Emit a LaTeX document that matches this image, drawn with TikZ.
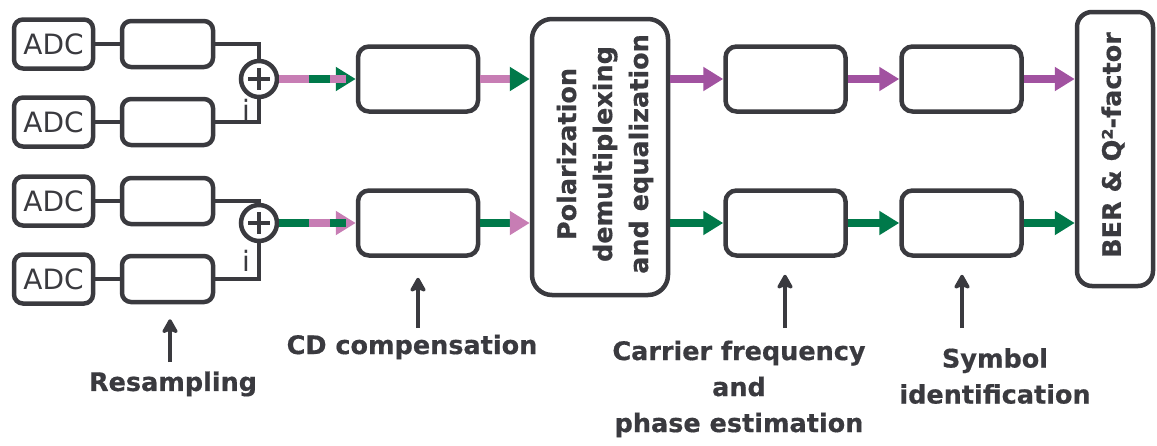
\documentclass[tikz,border=0pt]{standalone}
\usepackage{fontspec}
\setmainfont{DejaVu Sans}[BoldFeatures={FakeBold=0.6}]
\usetikzlibrary{arrows.meta,calc}
\definecolor{ink}{HTML}{3A3A3F}
\definecolor{pinkc}{HTML}{C77DB4}
\definecolor{greenc}{HTML}{00794A}
\definecolor{purplec}{HTML}{A152A0}
\begin{document}
\begin{tikzpicture}[x=1pt,y=-1pt,
  box/.style={draw=ink,line width=4.5pt,inner sep=0pt,text=ink},
  adc/.style={box,rounded corners=9pt,minimum width=79pt,minimum height=49pt,font=\fontsize{28}{28}\selectfont},
  rs/.style={box,rounded corners=9pt,minimum width=91pt,minimum height=46pt},
  proc/.style={box,rounded corners=11pt,minimum width=120pt,minimum height=65pt},
  adder/.style={box,circle,minimum size=36pt},
  wire/.style={draw=ink,line width=4.5pt},
  head/.style={-{Triangle[length=20pt,width=23pt,color=#1]}},
  sig/.style={line width=7.5pt},
  lbl/.style={inner sep=0pt,text=ink,align=center,font=\fontsize{25.5}{36}\selectfont\bfseries},
  vlbl/.style={lbl,rotate=90},
  idx/.style={inner sep=0pt,text=ink,font=\fontsize{28}{28}\selectfont},
  up/.style={draw=ink,line width=4.5pt,-{Stealth[length=17pt,width=19pt,inset=4pt,round]}}
]
\useasboundingbox (0,0) rectangle (1157,445);

% converters and resamplers
\foreach \k/\y in {1/44,2/122,3/201,4/279}{
  \node[adc] (adc\k) at (53.5,\y) {ADC};
  \node[rs] (res\k) at (167.5,\y) {};
  \draw[wire] (adc\k) -- (res\k);
}

% adders combining real and imaginary parts
\node[adder] (add1) at (259,79) {};
\node[adder] (add2) at (259,223) {};
\foreach \a in {add1,add2}{
  \draw[wire] ($(\a)+(-11,0)$) -- ($(\a)+(11,0)$);
  \draw[wire] ($(\a)+(0,-11)$) -- ($(\a)+(0,11)$);
}
\draw[wire] (res1.east) -| (add1.north);
\draw[wire] (res2.east) -| (add1.south);
\draw[wire] (res3.east) -| (add2.north);
\draw[wire] (res4.east) -| (add2.south);
\node[idx] (i1) at (246,110) {i};
\node[idx] (i2) at (246,261) {i};

% processing blocks
\node[proc] (cd1) at (418,79) {};
\node[proc] (cd2) at (418,223) {};
\node[box,rounded corners=20pt,minimum width=136pt,minimum height=276pt] (pol) at (600,157) {};
\node[vlbl] (poltext) at (605,154) {Polarization\\demultiplexing\\and equalization};
\node[proc] (cf1) at (785.5,79) {};
\node[proc] (cf2) at (785.5,223) {};
\node[proc] (sy1) at (961.5,79) {};
\node[proc] (sy2) at (961.5,223) {};
\node[box,rounded corners=15pt,minimum width=76pt,minimum height=274pt] (ber) at (1115,149) {};
\node[vlbl] (bertext) at (1113,145) {BER \& Q²-factor};

% mixed-polarization signals before demultiplexing
\draw[sig,greenc,head=greenc] (add1.east) -- (cd1.west);
\draw[sig,pinkc,shorten >=10pt] (add1.east) -- (cd1.west);
\draw[sig,greenc,dash pattern=on 0pt off 30pt on 21pt off 600pt] (add1.east) -- (cd1.west);
\draw[sig,pinkc,head=pinkc] (add2.east) -- (cd2.west);
\draw[sig,greenc,shorten >=10pt] (add2.east) -- (cd2.west);
\draw[sig,pinkc,dash pattern=on 0pt off 30pt on 21pt off 600pt] (add2.east) -- (cd2.west);
\draw[sig,pinkc,head=greenc] (cd1.east) -- (cd1.east -| pol.west);
\draw[sig,greenc,head=pinkc] (cd2.east) -- (cd2.east -| pol.west);

% separated polarizations
\draw[sig,purplec,head=purplec] (cf1.west -| pol.east) -- (cf1.west);
\draw[sig,purplec,head=purplec] (cf1.east) -- (sy1.west);
\draw[sig,purplec,head=purplec] (sy1.east) -- (sy1.east -| ber.west);
\draw[sig,greenc,head=greenc] (cf2.west -| pol.east) -- (cf2.west);
\draw[sig,greenc,head=greenc] (cf2.east) -- (sy2.west);
\draw[sig,greenc,head=greenc] (sy2.east) -- (sy2.east -| ber.west);

% annotations
\node[lbl] (lres) at (173,384) {Resampling};
\node[lbl] (lcd) at (412,347) {CD compensation};
\node[lbl] (lcf) at (739,389) {Carrier frequency\\and\\phase estimation};
\node[lbl] (lsy) at (995,376) {Symbol\\identification};
\coordinate (ares) at (170,362);
\coordinate (acd) at (418,328);
\coordinate (acf) at (785,328);
\coordinate (asy) at (962,328);
\draw[up,shorten >=15pt] (ares) -- (ares |- res4.south);
\draw[up,shorten >=20pt] (acd) -- (acd |- cd2.south);
\draw[up,shorten >=17pt] (acf) -- (acf |- cf2.south);
\draw[up,shorten >=17pt] (asy) -- (asy |- sy2.south);
\end{tikzpicture}
\end{document}
